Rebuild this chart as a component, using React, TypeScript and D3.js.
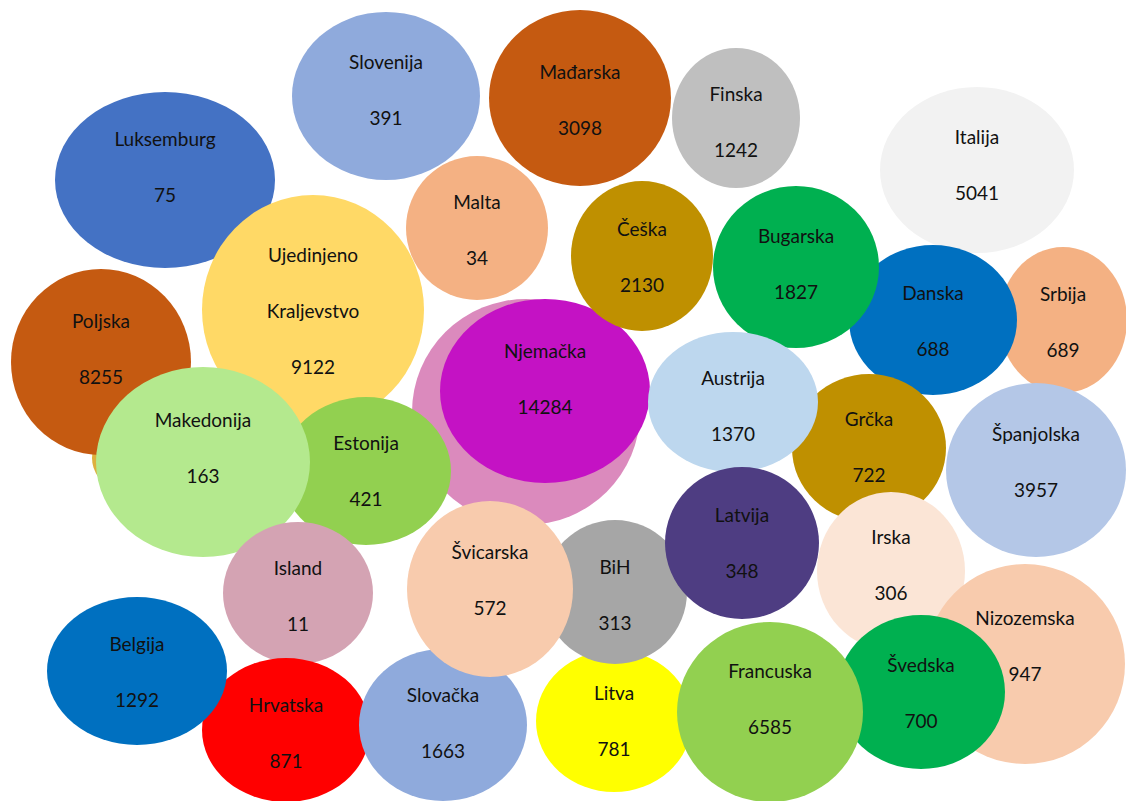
import { useEffect, useRef } from 'react'
import * as d3 from 'd3'

// bubbles, listed bottom to top in drawing order ('' = unlabelled bubble hidden behind others)
const countries = [
  '', 'Luksemburg', 'Poljska', 'Ujedinjeno\nKraljevstvo', 'Slovenija', 'Malta', 'Finska', 'Mađarska',
  'Italija', 'Srbija', 'Danska', 'Bugarska', '', 'Njemačka', 'Češka', 'Grčka', 'Austrija',
  'Španjolska', 'Estonija', 'Makedonija', 'Island', 'Hrvatska', 'Slovačka', 'Litva', 'BiH',
  'Latvija', 'Švicarska', 'Irska', 'Nizozemska', 'Švedska', 'Francuska', 'Belgija'
]
const values: (number | null)[] = [
  null, 75, 8255, 9122, 391, 34, 1242, 3098,
  5041, 689, 688, 1827, null, 14284, 2130, 722, 1370,
  3957, 421, 163, 11, 871, 1663, 781, 313,
  348, 572, 306, 947, 700, 6585, 1292
]
// bubble centre and half-axes (layout units)
const bubbleX = [
  175, 165, 101, 313, 386, 477, 736, 580,
  977, 1063, 933, 796, 526, 545, 642, 869, 733,
  1036, 366, 203, 298, 286, 443, 614, 615,
  742, 490, 891, 1025, 921, 770, 137
]
const bubbleY = [
  458, 180, 362, 310, 96, 228, 118, 98,
  170, 320, 320, 267, 412, 391, 256, 448, 402,
  470, 471, 462, 593, 730, 725, 721, 592,
  543, 589, 571, 664, 692, 712, 671
]
const radiusX = [
  83, 110, 90, 111, 94, 71, 64, 91,
  97, 64, 84, 83, 114, 105, 71, 77, 85,
  90, 85, 107, 75, 84, 84, 78, 72,
  77, 83, 74, 100, 84, 93, 90
]
const radiusY = [
  50, 88, 93, 115, 84, 72, 70, 88,
  83, 73, 75, 81, 113, 92, 75, 74, 70,
  87, 74, 95, 71, 72, 76, 71, 72,
  76, 88, 79, 100, 77, 90, 74
]
const palette = [
  '#DDB03E', '#4472C4', '#C55A11', '#FFD966', '#8FAADC', '#F4B183', '#BFBFBF', '#C55A11',
  '#F2F2F2', '#F4B183', '#0070C0', '#00B050', '#DB8ABD', '#C412C4', '#BF9000', '#BF9000', '#BDD7EE',
  '#B4C7E7', '#92D050', '#B4E98E', '#D4A3B3', '#FF0000', '#8FAADC', '#FFFF00', '#A6A6A6',
  '#4E3D82', '#F8CBAD', '#FBE5D6', '#F8CBAD', '#00B050', '#92D050', '#0070C0'
]
// how far each data label sits from its bubble centre (vertical, layout units)
const labelShift = [
  0, -13, -13, 1, -6, 2, 4, 2,
  -5, 2, 1, -3, 0, -12, 1, -1, 4,
  -8, 0, -14, 3, 3, -2, 0, 3,
  0, -9, -6, -18, 1, -13, 1
]

const width = 1126
const height = 801
const lineGap = 56

export default function App() {
  const svgRef = useRef<SVGSVGElement>(null)

  useEffect(() => {
    if (!svgRef.current) return
    const svg = d3.select(svgRef.current)
    svg.selectAll('*').remove()

    const x = d3.scaleLinear().domain([0, 1126]).range([0, width])
    const y = d3.scaleLinear().domain([0, 801]).range([0, height])

    const data = countries.map((name, i) => ({
      name,
      value: values[i],
      x: bubbleX[i],
      y: bubbleY[i],
      rx: radiusX[i],
      ry: radiusY[i],
      color: palette[i],
      shift: labelShift[i]
    }))

    svg.append('g')
      .selectAll('ellipse')
      .data(data)
      .join('ellipse')
      .attr('cx', d => x(d.x))
      .attr('cy', d => y(d.y))
      .attr('rx', d => x(d.rx) - x(0))
      .attr('ry', d => y(d.ry) - y(0))
      .attr('fill', d => d.color)

    // data labels sit above every bubble
    const labels = svg.append('g')
      .attr('font-family', 'Lato, "Open Sans", sans-serif')
      .attr('font-size', 19)
      .attr('fill', '#111')
      .attr('text-anchor', 'middle')

    data.filter(d => d.value !== null).forEach(d => {
      const lines = [...d.name.split('\n'), String(d.value)]
      const top = y(d.y + d.shift) - ((lines.length - 1) * lineGap) / 2
      lines.forEach((line, k) => {
        labels.append('text')
          .attr('x', x(d.x))
          .attr('y', top + k * lineGap)
          .attr('dy', '0.35em')
          .text(line)
      })
    })
  }, [])

  return (
    <svg
      ref={svgRef}
      width={width}
      height={height}
      style={{ position: 'absolute', left: 0, top: 0, background: '#fff' }}
    />
  )
}
